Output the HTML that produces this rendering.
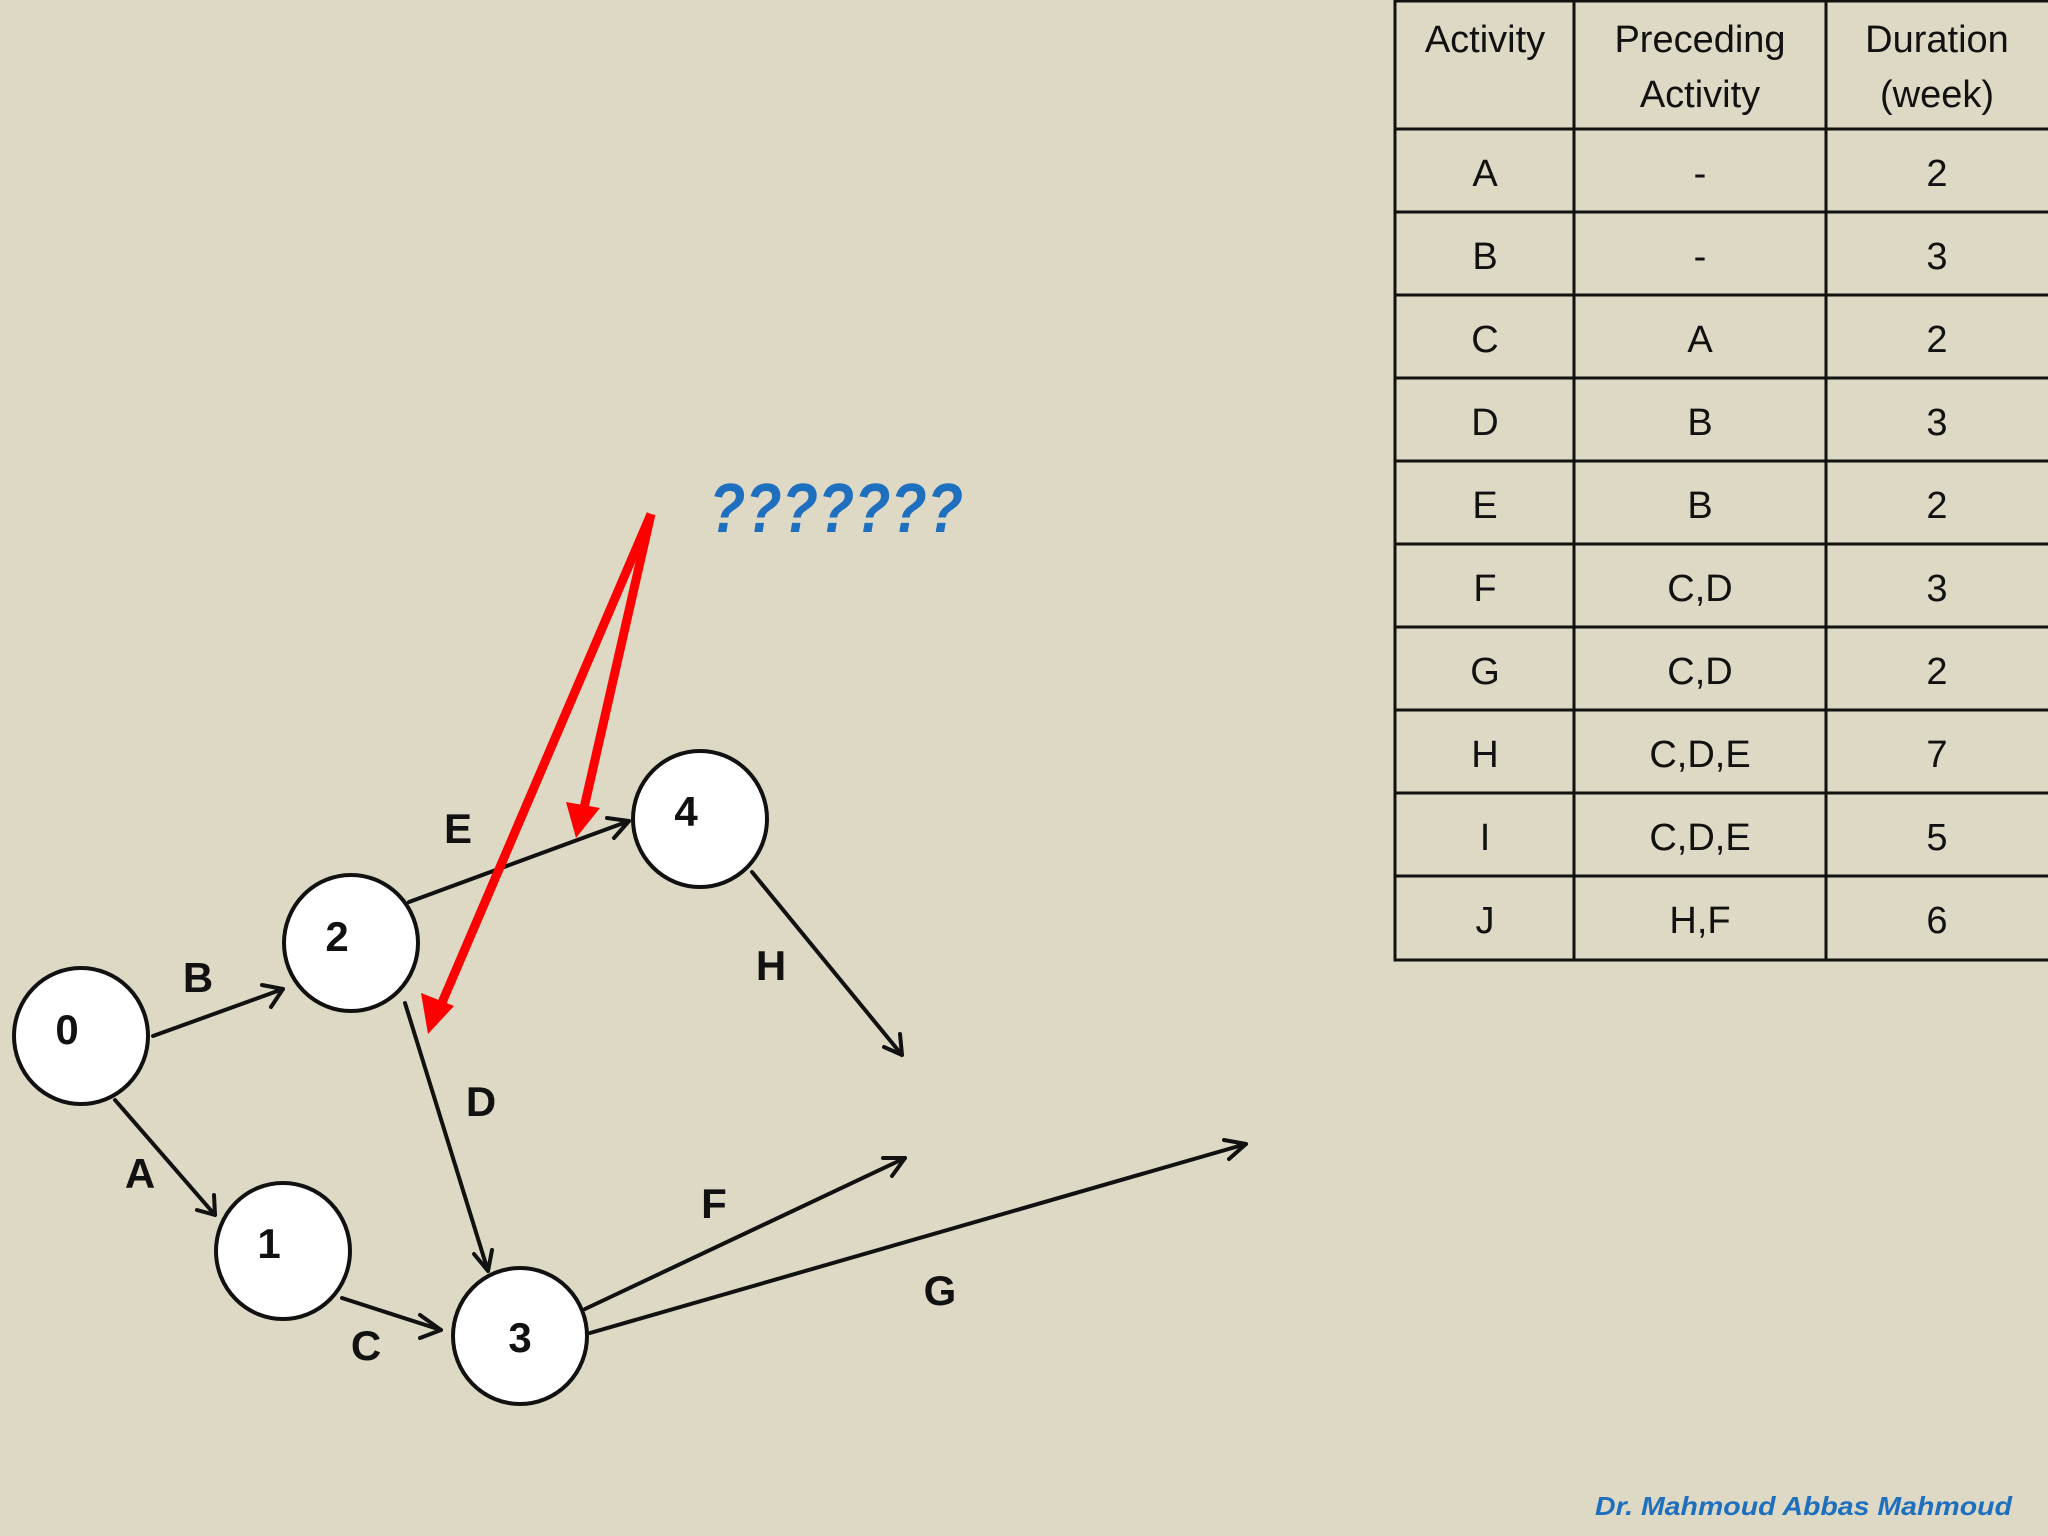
<!DOCTYPE html>
<html><head><meta charset="utf-8"><style>
html,body{margin:0;padding:0;background:#ddd9c4;}
svg{display:block;}
</style></head><body>
<svg width="2048" height="1536" viewBox="0 0 2048 1536" xmlns="http://www.w3.org/2000/svg">
<rect width="2048" height="1536" fill="#ddd9c4"/>
<!-- table -->
<g stroke="#111" stroke-width="3" fill="none">
<rect x="1395" y="1" width="660" height="959"/>
<line x1="1574" y1="0" x2="1574" y2="960"/>
<line x1="1826" y1="0" x2="1826" y2="960"/>
<line x1="1395" y1="129" x2="2048" y2="129"/>
<line x1="1395" y1="212" x2="2048" y2="212"/>
<line x1="1395" y1="295" x2="2048" y2="295"/>
<line x1="1395" y1="378" x2="2048" y2="378"/>
<line x1="1395" y1="461" x2="2048" y2="461"/>
<line x1="1395" y1="544" x2="2048" y2="544"/>
<line x1="1395" y1="627" x2="2048" y2="627"/>
<line x1="1395" y1="710" x2="2048" y2="710"/>
<line x1="1395" y1="793" x2="2048" y2="793"/>
<line x1="1395" y1="876" x2="2048" y2="876"/>
</g>
<g font-family="Liberation Sans, sans-serif" font-size="38" fill="#111" text-anchor="middle">
<text x="1485" y="52">Activity</text>
<text x="1700" y="52">Preceding</text><text x="1700" y="107">Activity</text>
<text x="1937" y="52">Duration</text><text x="1937" y="107">(week)</text>
<g>
<text x="1485" y="186">A</text><text x="1700" y="186">-</text><text x="1937" y="186">2</text>
<text x="1485" y="269">B</text><text x="1700" y="269">-</text><text x="1937" y="269">3</text>
<text x="1485" y="352">C</text><text x="1700" y="352">A</text><text x="1937" y="352">2</text>
<text x="1485" y="435">D</text><text x="1700" y="435">B</text><text x="1937" y="435">3</text>
<text x="1485" y="518">E</text><text x="1700" y="518">B</text><text x="1937" y="518">2</text>
<text x="1485" y="601">F</text><text x="1700" y="601">C,D</text><text x="1937" y="601">3</text>
<text x="1485" y="684">G</text><text x="1700" y="684">C,D</text><text x="1937" y="684">2</text>
<text x="1485" y="767">H</text><text x="1700" y="767">C,D,E</text><text x="1937" y="767">7</text>
<text x="1485" y="850">I</text><text x="1700" y="850">C,D,E</text><text x="1937" y="850">5</text>
<text x="1485" y="933">J</text><text x="1700" y="933">H,F</text><text x="1937" y="933">6</text>
</g></g>
<defs>
<marker id="ah" markerWidth="8" markerHeight="8" refX="7" refY="4" orient="auto" markerUnits="userSpaceOnUse" viewBox="0 0 8 8">
</marker>
</defs>
<!-- edges -->
<g stroke="#111" stroke-width="4" fill="none" stroke-linecap="round" stroke-linejoin="round">
<line x1="153" y1="1036" x2="283" y2="989"/>
<line x1="115" y1="1100" x2="215" y2="1215"/>
<line x1="342" y1="1298" x2="441" y2="1330"/>
<line x1="409" y1="902" x2="629" y2="821"/>
<line x1="405" y1="1003" x2="488" y2="1271"/>
<line x1="752" y1="872" x2="902" y2="1055"/>
<line x1="585" y1="1309" x2="905" y2="1158"/>
<line x1="590" y1="1333" x2="1246" y2="1144"/>
<!-- arrowheads -->
<polyline points="262,985 283,989 271,1007" transform=""/>
<polyline points="197,1210 215,1215 214,1195"/>
<polyline points="420,1315 441,1330 420,1338"/>
<polyline points="607,818 629,821 614,838"/>
<polyline points="474,1254 488,1271 492,1250"/>
<polyline points="884,1047 902,1055 900,1034"/>
<polyline points="883,1158 905,1158 892,1176"/>
<polyline points="1224,1140 1246,1144 1229,1159"/>
</g>
<!-- red arrows -->
<g stroke="#ff0000" stroke-width="9" fill="none">
<line x1="651" y1="514" x2="441" y2="1005"/>
<line x1="651" y1="514" x2="584" y2="808"/>
</g>
<polygon points="428,1034 421,993 454,1006" fill="#ff0000"/>
<polygon points="576,838 566,802 600,808" fill="#ff0000"/>
<!-- nodes -->
<g fill="#fff" stroke="#111" stroke-width="4">
<ellipse cx="81" cy="1036" rx="67" ry="68"/>
<ellipse cx="283" cy="1251" rx="67" ry="68"/>
<ellipse cx="351" cy="943" rx="67" ry="68"/>
<ellipse cx="520" cy="1336" rx="67" ry="68"/>
<ellipse cx="700" cy="819" rx="67" ry="68"/>
</g>
<g font-family="Liberation Sans, sans-serif" font-weight="bold" font-size="42" fill="#111" text-anchor="middle">
<text x="67" y="1044">0</text>
<text x="269" y="1258">1</text>
<text x="337" y="951">2</text>
<text x="520" y="1352">3</text>
<text x="686" y="826">4</text>
<text x="198" y="992">B</text>
<text x="140" y="1188">A</text>
<text x="366" y="1360">C</text>
<text x="458" y="843">E</text>
<text x="481" y="1116">D</text>
<text x="771" y="980">H</text>
<text x="714" y="1218">F</text>
<text x="940" y="1305">G</text>
</g>
<text x="709" y="532" font-family="Liberation Sans, sans-serif" font-weight="bold" font-style="italic" font-size="70" fill="#1f6fbf" textLength="254" lengthAdjust="spacingAndGlyphs">???????</text>
<text x="1595" y="1515" font-family="Liberation Sans, sans-serif" font-weight="bold" font-style="italic" font-size="26" fill="#1f6fbf" textLength="417" lengthAdjust="spacingAndGlyphs">Dr. Mahmoud Abbas Mahmoud</text>
</svg>
</body></html>
